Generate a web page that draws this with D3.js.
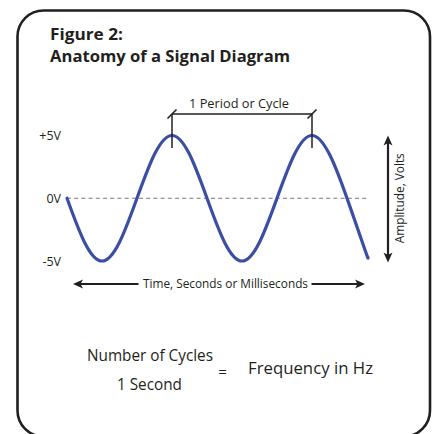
<!DOCTYPE html>
<html><head><meta charset="utf-8">
<script src="https://cdn.jsdelivr.net/npm/d3@7"></script>
<style>
html,body{margin:0;padding:0;background:#fff;}
svg{display:block;}
text{font-family:"Open Sans","Noto Sans",sans-serif;fill:#231f20;}
</style></head><body>
<svg id="c" width="436" height="434"></svg>
<script>
// ---- data ----
const timeValues = [0, 0.125, 0.25, 0.375, 0.5, 0.625, 0.75, 0.875, 1, 1.125, 1.25, 1.375, 1.5, 1.625, 1.75, 1.875, 2, 2.125, 2.15];
const voltValues = [0, -3.5, -5, -3.5, 0, 3.5, 5, 3.5, 0, -3.5, -5, -3.5, 0, 3.5, 5, 3.5, 0, -4.0, -4.75];
const tickValues = [5, 0, -5];
const tickLabels = ["+5V", "0V", "-5V"];
const periodRange = [0.75, 1.75];
const titleLines = ["Figure 2:", "Anatomy of a Signal Diagram"];
const periodLabel = "1 Period or Cycle";
const amplitudeLabel = "Amplitude, Volts";
const timeLabel = "Time, Seconds or Milliseconds";
const fractionTop = "Number of Cycles";
const fractionBottom = "1 Second";
const resultLabel = "Frequency in Hz";

// ---- drawing ----
const svg = d3.select("#c");
const ink = "#231f20";
const blue = "#3a4fa3";

const x = d3.scaleLinear().domain([0, 2.15]).range([67, 368]);
const y = d3.scaleLinear().domain([-5, 5]).range([261, 135.5]);

// frame
svg.append("rect").attr("x", 17.5).attr("y", 10.5).attr("width", 412.5).attr("height", 426)
  .attr("rx", 26).attr("ry", 26).attr("fill", "none").attr("stroke", ink).attr("stroke-width", 2.6);

// title
svg.append("text").attr("x", 50).attr("y", 39.5).attr("font-size", 15.5).attr("font-weight", 700)
  .attr("textLength", 73).attr("lengthAdjust", "spacingAndGlyphs").text(titleLines[0]);
svg.append("text").attr("x", 50).attr("y", 62).attr("font-size", 15.5).attr("font-weight", 700)
  .attr("textLength", 240).attr("lengthAdjust", "spacingAndGlyphs").text(titleLines[1]);

// zero dashed line
svg.append("line").attr("x1", x(0)).attr("x2", x(2.15)).attr("y1", y(0)).attr("y2", y(0))
  .attr("stroke", "#777").attr("stroke-width", 1.2).attr("stroke-dasharray", "4,3.2");

// y axis labels
const yAxis = d3.axisLeft(y).tickValues(tickValues).tickSize(0).tickPadding(0)
  .tickFormat((d, i) => tickLabels[i]);
const ga = svg.append("g").attr("transform", "translate(61,0)").call(yAxis);
ga.select(".domain").remove();
ga.selectAll("text").attr("font-family", null).attr("font-size", 12.5).attr("fill", "#333")
  .attr("dy", "0.35em");

// wave
const line = d3.line().x((d, i) => x(timeValues[i])).y(d => y(d)).curve(d3.curveNatural);
svg.append("path").datum(voltValues).attr("d", line).attr("fill", "none")
  .attr("stroke", blue).attr("stroke-width", 3.2).attr("stroke-linecap", "round");

// period marker
const pY = 114;
const p0 = x(periodRange[0]), p1 = x(periodRange[1]);
svg.append("line").attr("x1", p0).attr("x2", p1).attr("y1", pY).attr("y2", pY)
  .attr("stroke", ink).attr("stroke-width", 1.3);
[p0, p1].forEach(px => {
  svg.append("line").attr("x1", px).attr("x2", px).attr("y1", pY).attr("y2", 148)
    .attr("stroke", ink).attr("stroke-width", 1.5);
  svg.append("line").attr("x1", px - 4.5).attr("y1", pY + 4.5).attr("x2", px + 4.5).attr("y2", pY - 4.5)
    .attr("stroke", ink).attr("stroke-width", 1.6);
});
svg.append("text").attr("x", (p0 + p1) / 2 - 3).attr("y", 108).attr("text-anchor", "middle")
  .attr("font-size", 12.5).attr("textLength", 100).attr("lengthAdjust", "spacingAndGlyphs").text(periodLabel);

// arrow helper
function arrowHead(tx, ty, dir) {
  const L = 10, W = 4.5;
  let pts;
  if (dir === "left") pts = [[tx, ty], [tx + L, ty - W], [tx + L * 0.75, ty], [tx + L, ty + W]];
  if (dir === "right") pts = [[tx, ty], [tx - L, ty - W], [tx - L * 0.75, ty], [tx - L, ty + W]];
  if (dir === "up") pts = [[tx, ty], [tx - W, ty + L], [tx, ty + L * 0.75], [tx + W, ty + L]];
  if (dir === "down") pts = [[tx, ty], [tx - W, ty - L], [tx, ty - L * 0.75], [tx + W, ty - L]];
  svg.append("path").attr("d", "M" + pts.map(p => p.join(",")).join("L") + "Z").attr("fill", ink);
}

// amplitude arrow
const aX = 388;
svg.append("line").attr("x1", aX).attr("x2", aX).attr("y1", y(5) + 5).attr("y2", y(-5) - 5)
  .attr("stroke", ink).attr("stroke-width", 2.2);
arrowHead(aX, y(5), "up");
arrowHead(aX, y(-5) + 1.5, "down");
svg.append("text").attr("transform", `translate(404,${y(0)}) rotate(-90)`).attr("text-anchor", "middle")
  .attr("font-size", 12.5).attr("textLength", 90).attr("lengthAdjust", "spacingAndGlyphs").text(amplitudeLabel);

// time arrow
const tY = 284;
svg.append("line").attr("x1", 78).attr("x2", 138.5).attr("y1", tY).attr("y2", tY)
  .attr("stroke", ink).attr("stroke-width", 2.2);
arrowHead(73, tY, "left");
svg.append("line").attr("x1", 311.5).attr("x2", 360).attr("y1", tY).attr("y2", tY)
  .attr("stroke", ink).attr("stroke-width", 2.2);
arrowHead(365, tY, "right");
svg.append("text").attr("x", 225.5).attr("y", tY + 4.2).attr("text-anchor", "middle")
  .attr("font-size", 12.5).attr("textLength", 165).attr("lengthAdjust", "spacingAndGlyphs").text(timeLabel);

// formula
svg.append("text").attr("x", 150).attr("y", 361).attr("text-anchor", "middle").attr("font-size", 15.5)
  .attr("textLength", 126).attr("lengthAdjust", "spacingAndGlyphs").text(fractionTop);
svg.append("text").attr("x", 149.5).attr("y", 390).attr("text-anchor", "middle").attr("font-size", 15.5)
  .attr("textLength", 65).attr("lengthAdjust", "spacingAndGlyphs").text(fractionBottom);
svg.append("text").attr("x", 222.5).attr("y", 377).attr("text-anchor", "middle").attr("font-size", 15).text("=");
svg.append("text").attr("x", 248).attr("y", 374).attr("font-size", 15.5)
  .attr("textLength", 125).attr("lengthAdjust", "spacingAndGlyphs").text(resultLabel);
</script>
</body></html>
